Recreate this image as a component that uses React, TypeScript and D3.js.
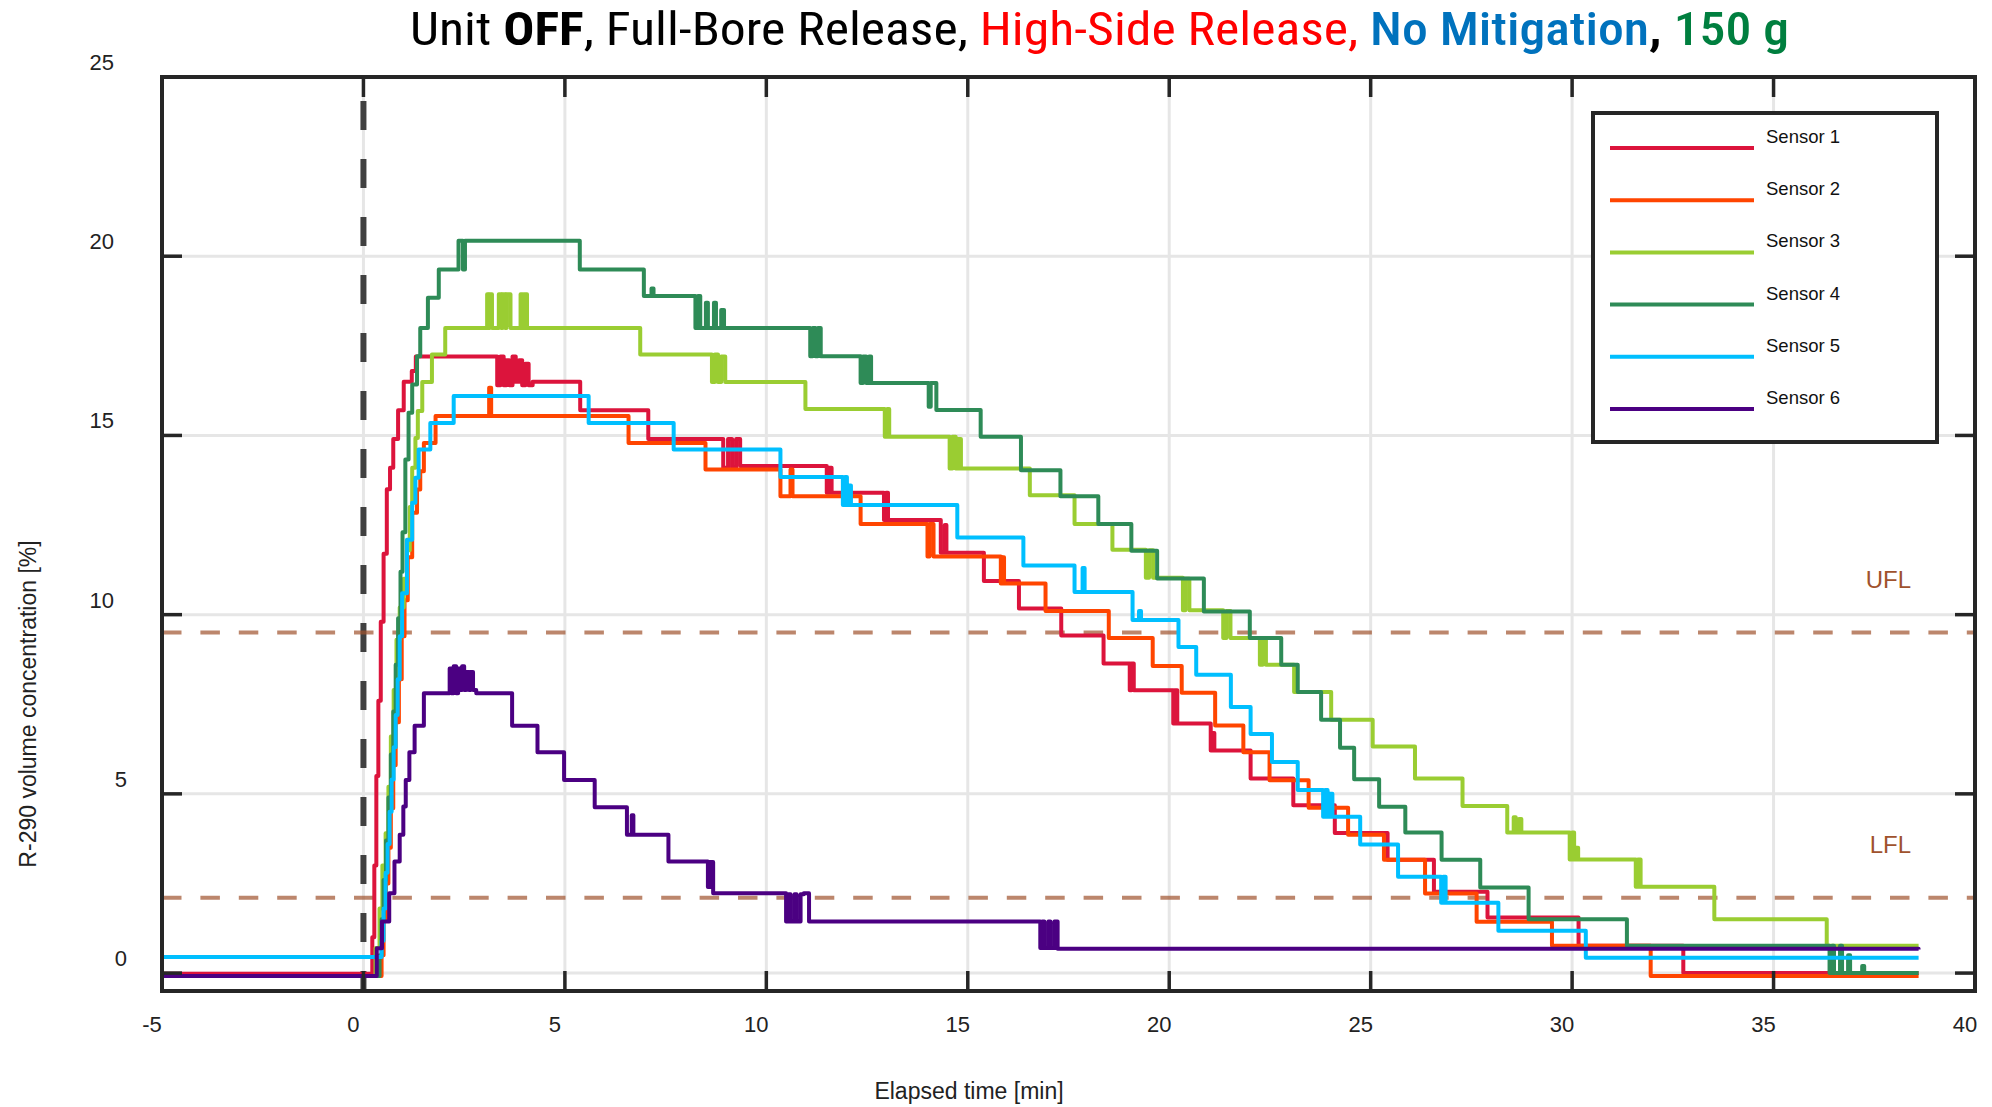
import React from 'react';
import * as d3 from 'd3';

// step data: [elapsed time in min, concentration in %], each value holds until the next time
const sensor1: [number, number][] = [
  [-5, -0.02], [0.22, 1], [0.27, 3], [0.32, 5.5], [0.37, 7.6], [0.43, 9.8], [0.5, 11.7], [0.58, 13.5],
  [0.66, 14.1], [0.74, 14.9], [0.86, 15.7], [1.0, 16.5], [1.2, 16.8], [1.3, 17.2],
  [3.32, 16.4], [3.4, 17.2], [3.48, 16.4], [3.55, 17.1], [3.62, 16.4], [3.7, 17.2], [3.78, 16.5], [3.86, 17.1],
  [3.94, 16.4], [4.02, 17.0], [4.1, 16.4], [4.2, 16.5], [5.38, 15.7], [7.07, 14.9],
  [8.93, 14.1], [9.05, 14.9], [9.15, 14.1], [9.25, 14.9], [9.35, 14.15],
  [11.5, 13.4], [11.56, 14.1], [11.62, 13.4], [12.92, 12.64], [12.97, 13.4], [13.02, 12.64],
  [14.33, 11.73], [14.43, 12.5], [14.47, 11.73], [15.4, 10.94], [16.27, 10.17], [17.32, 9.42], [18.37, 8.64],
  [19.02, 7.89], [19.06, 8.64], [19.12, 7.89], [20.1, 6.96], [20.14, 7.89], [20.2, 6.96],
  [21.03, 6.21], [21.08, 6.7], [21.12, 6.21], [22.02, 5.43], [23.08, 4.68], [24.11, 3.91],
  [25.42, 3.16], [26.57, 2.27], [27.9, 1.55], [30.16, 0.76], [32.76, 0.0], [38.6, 0.0],
];

const sensor2: [number, number][] = [
  [-5, -0.08], [0.45, 0.5], [0.5, 1.5], [0.56, 2.5], [0.62, 3.5], [0.68, 4.6], [0.74, 5.8], [0.8, 7.0],
  [0.88, 8.2], [0.95, 9.4], [1.02, 10.4], [1.1, 11.6], [1.21, 12.84], [1.33, 13.49], [1.41, 14.0],
  [1.5, 14.79], [1.79, 15.54], [3.12, 16.33], [3.17, 15.54], [6.58, 14.79], [8.49, 14.05],
  [10.35, 13.3], [10.6, 14.05], [10.65, 13.3], [12.34, 12.53], [14.0, 11.62], [14.05, 12.53],
  [14.15, 11.62], [15.82, 10.87], [15.86, 11.6], [15.9, 10.87], [16.93, 10.1], [18.5, 9.35],
  [19.59, 8.57], [20.31, 7.82], [21.14, 6.91], [21.84, 6.16], [22.49, 5.38], [23.46, 4.61],
  [24.44, 3.86], [25.33, 3.16], [26.35, 2.22], [27.63, 1.43], [29.5, 0.76], [31.95, -0.08], [38.6, -0.08],
];

const sensor3: [number, number][] = [
  [-5, -0.08], [0.3, 0.7], [0.4, 1.8], [0.47, 3], [0.55, 3.9], [0.62, 5.2], [0.68, 6.6], [0.75, 7.9],
  [0.82, 9.3], [0.9, 10.2], [1.0, 11.0], [1.08, 11.8], [1.15, 13.0], [1.21, 14.1], [1.29, 14.93],
  [1.35, 15.68], [1.46, 16.49], [1.7, 17.26], [2.03, 18.0],
  [3.07, 18.94], [3.1, 18.0], [3.13, 18.94], [3.19, 18.0], [3.36, 18.94], [3.42, 18.0], [3.45, 18.94],
  [3.52, 18.0], [3.55, 18.94], [3.65, 18.0], [3.9, 18.94], [3.95, 18.0], [3.99, 18.94], [4.06, 18.0],
  [6.87, 17.26], [8.65, 16.49], [8.72, 17.26], [8.8, 16.49], [8.88, 17.2], [8.98, 16.49],
  [10.97, 15.74], [12.94, 14.96], [13.0, 15.74], [13.05, 14.96],
  [14.55, 14.08], [14.62, 14.96], [14.7, 14.08], [14.76, 14.9], [14.83, 14.08],
  [16.54, 13.33], [17.65, 12.53], [18.59, 11.81], [19.42, 11.03], [19.5, 11.8], [19.6, 11.03],
  [20.34, 10.12], [20.4, 11.0], [20.5, 10.12], [21.34, 9.35], [21.42, 10.1], [21.52, 9.35],
  [22.25, 8.6], [22.32, 9.3], [22.4, 8.6], [23.1, 7.84], [24.02, 7.07], [25.05, 6.32],
  [26.1, 5.43], [27.28, 4.66], [28.39, 3.92], [28.55, 4.35], [28.6, 3.92], [28.68, 4.3], [28.74, 3.92],
  [29.94, 3.17], [30.0, 3.92], [30.05, 3.17], [30.1, 3.5], [30.15, 3.17],
  [31.58, 2.41], [31.63, 3.17], [31.7, 2.41], [33.53, 1.5], [36.32, 0.76], [38.6, 0.76],
];

const sensor4: [number, number][] = [
  [-5, -0.08], [0.4, 0.5], [0.45, 1.5], [0.5, 2.6], [0.56, 3.7], [0.62, 4.9], [0.68, 6.1], [0.74, 7.3],
  [0.8, 8.6], [0.86, 9.9], [0.92, 11.2], [0.97, 12.3], [1.04, 14.33], [1.12, 15.63], [1.21, 16.42],
  [1.33, 17.21], [1.41, 18.0], [1.6, 18.84], [1.87, 19.63], [2.36, 20.43], [2.47, 19.63], [2.52, 20.43],
  [5.37, 19.63], [6.96, 18.89], [7.15, 19.1], [7.2, 18.89],
  [8.24, 18.0], [8.3, 18.89], [8.36, 18.0], [8.5, 18.7], [8.55, 18.0], [8.7, 18.7], [8.75, 18.0],
  [8.88, 18.5], [8.95, 18.0], [11.09, 17.21], [11.15, 18.0], [11.22, 17.21], [11.28, 18.0], [11.35, 17.21],
  [12.34, 16.46], [12.4, 17.2], [12.48, 16.46], [12.55, 17.2], [12.6, 16.46],
  [14.03, 15.8], [14.08, 16.46], [14.22, 15.71], [15.32, 14.96], [16.32, 14.03], [17.3, 13.3],
  [18.24, 12.53], [19.06, 11.78], [19.7, 11.01], [20.86, 10.09], [22.0, 9.35], [22.78, 8.6],
  [23.19, 7.84], [23.77, 7.07], [24.24, 6.29], [24.59, 5.41], [25.21, 4.64], [25.86, 3.92],
  [26.76, 3.16], [27.72, 2.39], [28.92, 1.5], [31.36, 0.76],
  [36.39, 0.0], [36.45, 0.76], [36.5, 0.0], [36.65, 0.76], [36.7, 0.0], [36.85, 0.5], [36.9, 0.0],
  [37.2, 0.2], [37.25, 0.0], [38.6, 0.0],
];

const sensor5: [number, number][] = [
  [-5, 0.45], [0.45, 0.9], [0.5, 1.8], [0.55, 2.8], [0.6, 3.6], [0.65, 4.5], [0.7, 5.4], [0.75, 6.3],
  [0.8, 7.2], [0.85, 8.2], [0.9, 9.4], [0.96, 10.6], [1.08, 12.09], [1.21, 13.12], [1.29, 13.82],
  [1.37, 14.61], [1.66, 15.35], [2.24, 16.1], [5.59, 15.35], [7.7, 14.61], [10.35, 13.84],
  [11.9, 13.06], [11.95, 13.84], [12.0, 13.06], [12.05, 13.6], [12.1, 13.06], [14.74, 12.15],
  [16.38, 11.37], [17.65, 10.63], [17.85, 11.3], [17.9, 10.63], [19.09, 9.85], [19.25, 10.1],
  [19.3, 9.85], [20.23, 9.1], [20.67, 8.32], [21.53, 7.42], [22.02, 6.67], [22.55, 5.89],
  [23.19, 5.11], [23.82, 4.36], [23.87, 5.11], [23.93, 4.36], [23.98, 5.0], [24.05, 4.36],
  [24.74, 3.59], [25.68, 2.69], [26.75, 1.96], [26.8, 2.69], [26.86, 1.96], [28.17, 1.18],
  [30.34, 0.43], [38.6, 0.43],
];

const sensor6: [number, number][] = [
  [-5, -0.08], [0.33, 0.69], [0.46, 1.44], [0.64, 2.23], [0.77, 3.11], [0.9, 3.86], [0.99, 4.65],
  [1.05, 5.39], [1.14, 6.16], [1.27, 6.9], [1.5, 7.81],
  [2.14, 8.5], [2.18, 7.81], [2.24, 8.56], [2.3, 7.81], [2.35, 8.5], [2.4, 7.9], [2.45, 8.56],
  [2.5, 7.9], [2.55, 8.4], [2.62, 7.9], [2.66, 8.4], [2.72, 7.9], [2.8, 7.81],
  [3.69, 6.9], [4.32, 6.16], [4.98, 5.39], [5.74, 4.63], [6.54, 3.86], [6.66, 4.4], [6.7, 3.86],
  [7.57, 3.11], [8.55, 2.4], [8.6, 3.1], [8.68, 2.23],
  [10.49, 1.44], [10.55, 2.2], [10.6, 1.44], [10.7, 2.2], [10.75, 1.44], [10.85, 2.2], [10.93, 2.23],
  [11.06, 1.44], [16.8, 0.7], [16.85, 1.44], [16.9, 0.7], [17.0, 1.44], [17.05, 0.7], [17.15, 1.44],
  [17.23, 0.68], [38.6, 0.66],
];

const sensorNames = ['Sensor 1', 'Sensor 2', 'Sensor 3', 'Sensor 4', 'Sensor 5', 'Sensor 6'];
const sensorColors = ['#DC143C', '#FF4500', '#9ACD32', '#2E8B57', '#00BFFF', '#4B0082'];
const sensorData = [sensor1, sensor2, sensor3, sensor4, sensor5, sensor6];

const xTicks = [-5, 0, 5, 10, 15, 20, 25, 30, 35, 40];
const yTicks = [0, 5, 10, 15, 20, 25];

const limits = [
  { name: 'UFL', value: 9.5 },
  { name: 'LFL', value: 2.1 },
];

const W = 1992;
const H = 1107;
const frame = { left: 162, right: 1975, top: 77, bottom: 991 };

const App = () => {
  const x = d3.scaleLinear().domain([-5, 40]).range([frame.left, frame.right]);
  const y = d3.scaleLinear().domain([-0.5, 25]).range([frame.bottom, frame.top]);

  const line = d3.line<[number, number]>()
    .x(d => x(d[0]))
    .y(d => y(d[1]))
    .curve(d3.curveStepAfter);

  const axisFont = 'Arial, "Liberation Sans", sans-serif';
  const ink = '#262626';

  return (
    <svg width={W} height={H} style={{ position: 'absolute', left: 0, top: 0, background: '#fff' }}>
      <rect width={W} height={H} fill="#fff" />

      {/* grid */}
      {xTicks.map(t => (
        <line key={'gx' + t} x1={x(t)} x2={x(t)} y1={frame.top} y2={frame.bottom} stroke="#e6e6e6" strokeWidth={3} />
      ))}
      {yTicks.map(t => (
        <line key={'gy' + t} x1={frame.left} x2={frame.right} y1={y(t)} y2={y(t)} stroke="#e6e6e6" strokeWidth={3} />
      ))}

      {/* release start */}
      <line x1={x(0)} x2={x(0)} y1={frame.top} y2={frame.bottom} stroke="#404040" strokeWidth={6}
        strokeDasharray="29 29" strokeDashoffset={34} />

      {/* flammability limits */}
      {limits.map(l => (
        <line key={l.name} x1={frame.left} x2={frame.right} y1={y(l.value)} y2={y(l.value)}
          stroke="#A0522D" strokeOpacity={0.7} strokeWidth={4} strokeDasharray="19.5 18.9" />
      ))}
      {limits.map(l => (
        <text key={'t' + l.name} x={1911} y={y(l.value) - 45} textAnchor="end" fontFamily={axisFont}
          fontSize={24} fill="#A0522D">{l.name}</text>
      ))}

      {/* sensor traces */}
      {sensorData.map((s, i) => (
        <path key={sensorNames[i]} d={line(s) || ''} fill="none" stroke={sensorColors[i]} strokeWidth={4}
          strokeLinejoin="round" />
      ))}

      {/* frame and ticks */}
      <rect x={frame.left} y={frame.top} width={frame.right - frame.left} height={frame.bottom - frame.top}
        fill="none" stroke={ink} strokeWidth={4} />
      {xTicks.map(t => (
        <g key={'tx' + t}>
          <line x1={x(t)} x2={x(t)} y1={frame.bottom} y2={frame.bottom - 20} stroke={ink} strokeWidth={3.5} />
          <line x1={x(t)} x2={x(t)} y1={frame.top} y2={frame.top + 20} stroke={ink} strokeWidth={3.5} />
          <text x={x(t) - 10} y={1032} textAnchor="middle" fontFamily={axisFont} fontSize={22} fill="#222">{t}</text>
        </g>
      ))}
      {yTicks.map(t => (
        <g key={'ty' + t}>
          <line x1={frame.left} x2={frame.left + 20} y1={y(t)} y2={y(t)} stroke={ink} strokeWidth={3.5} />
          <line x1={frame.right} x2={frame.right - 20} y1={y(t)} y2={y(t)} stroke={ink} strokeWidth={3.5} />
          <text x={String(t).length > 1 ? 114 : 127} y={y(t) - 7} textAnchor="end" fontFamily={axisFont}
            fontSize={22} fill="#222">{t}</text>
        </g>
      ))}

      {/* axis labels */}
      <text x={969} y={1099} textAnchor="middle" fontFamily={axisFont} fontSize={23} fill="#222">Elapsed time [min]</text>
      <text transform="translate(36,704) rotate(-90)" textAnchor="middle" fontFamily={axisFont} fontSize={23}
        fill="#222">R-290 volume concentration [%]</text>

      {/* title */}
      <text x={410} y={45} fontFamily='"Liberation Sans Narrow", "Arial Narrow", "Roboto Condensed", sans-serif'
        fontSize={47} textLength={1379} lengthAdjust="spacingAndGlyphs">
        <tspan fill="#000">Unit </tspan>
        <tspan fill="#000" fontWeight="bold">OFF</tspan>
        <tspan fill="#000">, Full-Bore Release, </tspan>
        <tspan fill="#FF0000">High-Side Release, </tspan>
        <tspan fill="#0072BD" fontWeight={500}>No Mitigation</tspan>
        <tspan fill="#000" fontWeight="bold">, </tspan>
        <tspan fill="#007F3F" fontWeight={500}>150 g</tspan>
      </text>

      {/* legend */}
      <rect x={1593} y={113} width={344} height={329} fill="#fff" stroke={ink} strokeWidth={4} />
      {sensorNames.map((n, i) => (
        <g key={'lg' + n}>
          <line x1={1610} x2={1754} y1={148 + i * 52.2} y2={148 + i * 52.2} stroke={sensorColors[i]} strokeWidth={4} />
          <text x={1766} y={143 + i * 52.2} fontFamily={axisFont} fontSize={18.5} fill="#111">{n}</text>
        </g>
      ))}
    </svg>
  );
};

export default App;
